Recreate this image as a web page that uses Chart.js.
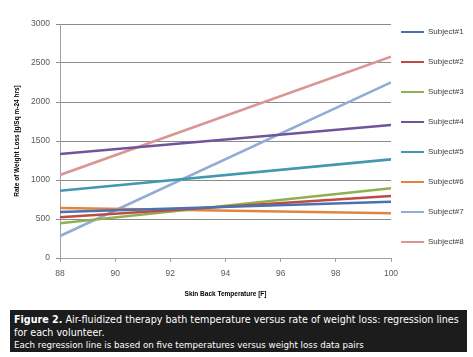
<!DOCTYPE html>
<html>
<head>
<meta charset="utf-8">
<script src="https://cdn.jsdelivr.net/npm/chart.js@4"></script>
<style>
  html, body { margin: 0; padding: 0; background: #ffffff; }
  #wrap { position: relative; width: 473px; height: 357px; }
  #chartBox { position: absolute; left: 0; top: 0; width: 473px; height: 305px; }
  #caption { position: absolute; left: 10px; top: 310px; width: 457px; height: 42px; background: #1c1c1c; color: #ffffff;
             font-family: 'DejaVu Sans', sans-serif; box-sizing: border-box; padding: 3px 0 0 4px; white-space: nowrap; overflow: hidden; }
  #caption .l1 { font-size: 9.6px; line-height: 13px; }
  #caption .l3 { font-size: 8.7px; line-height: 13px; }
</style>
</head>
<body>
<div id="wrap">
  <div id="chartBox"><canvas id="c" width="473" height="305"></canvas></div>
  <div id="caption">
    <div class="l1"><b>Figure 2.</b> Air-fluidized therapy bath temperature versus rate of weight loss: regression lines</div>
    <div class="l1">for each volunteer.</div>
    <div class="l3">Each regression line is based on five temperatures versus weight loss data pairs</div>
  </div>
</div>
<script>
const temperatures = [88, 100];
const subjectNames = ['Subject#1', 'Subject#2', 'Subject#3', 'Subject#4', 'Subject#5', 'Subject#6', 'Subject#7', 'Subject#8'];
const subject1 = [590, 722];
const subject2 = [522, 795];
const subject3 = [445, 894];
const subject4 = [1333, 1705];
const subject5 = [863, 1265];
const subject6 = [641, 573];
const subject7 = [282, 2252];
const subject8 = [1065, 2581];
const xTicks = [88, 90, 92, 94, 96, 98, 100];
const yTicks = [0, 500, 1000, 1500, 2000, 2500, 3000];

const seriesValues = [subject1, subject2, subject3, subject4, subject5, subject6, subject7, subject8];
const colors = ['#4a72ae', '#be4b48', '#8fb050', '#6f559a', '#4198af', '#e0843f', '#91acd6', '#d99694'];

const tickFont = { family: "'Liberation Sans', Arial, sans-serif", size: 8.5 };
const titleFont = { family: "'Liberation Sans', Arial, sans-serif", size: 6.5, weight: 'bold', lineHeight: 1.2 };

const datasets = seriesValues.map((vals, i) => ({
  label: subjectNames[i],
  data: temperatures.map((t, j) => ({ x: t, y: vals[j] })),
  borderColor: colors[i],
  backgroundColor: colors[i],
  borderWidth: 2.6,
  pointRadius: 0,
  fill: false,
  tension: 0
}));

const shiftLegend = {
  id: 'shiftLegend',
  afterLayout(chart) {
    const lg = chart.legend;
    if (lg) {
      lg.left = chart.chartArea.right - 12;
      lg.right = chart.width;
    }
  }
};

new Chart(document.getElementById('c'), {
  type: 'line',
  data: { datasets },
  plugins: [shiftLegend],
  options: {
    responsive: false,
    animation: false,
    layout: { padding: { top: 6, left: 0, right: 0, bottom: 0 } },
    plugins: {
      title: { display: true, text: '', font: { size: 10, lineHeight: 1 }, padding: { top: 0, bottom: 8 } },
      tooltip: { enabled: false },
      legend: {
        position: 'right',
        align: 'start',
        maxWidth: 82,
        labels: {
          font: { family: "'Liberation Sans', Arial, sans-serif", size: 8 },
          color: '#404040',
          boxWidth: 23,
          boxHeight: 2,
          padding: 22,
          generateLabels(chart) {
            const items = Chart.defaults.plugins.legend.labels.generateLabels(chart);
            items.forEach(it => { it.lineWidth = 0; it.strokeStyle = 'rgba(0,0,0,0)'; });
            return items;
          }
        }
      }
    },
    scales: {
      x: {
        type: 'linear',
        min: 88, max: 100,
        afterBuildTicks(scale) { scale.ticks = xTicks.map(v => ({ value: v })); },
        afterFit(scale) { scale.height = 47; },
        ticks: { font: tickFont, color: '#595959', padding: 7, maxRotation: 0, autoSkip: false, callback: v => String(v) },
        grid: { drawOnChartArea: false, drawTicks: true, tickLength: 4, color: '#a0a0a0' },
        border: { color: '#a0a0a0', width: 1 },
        title: { display: true, text: 'Skin Back Temperature [F]', font: titleFont, color: '#000000', padding: { top: 0, bottom: 7 } }
      },
      y: {
        min: 0, max: 3000,
        afterBuildTicks(scale) { scale.ticks = yTicks.map(v => ({ value: v })); },
        afterFit(scale) { scale.width = 60; },
        ticks: { font: tickFont, color: '#595959', padding: 6, callback: v => String(v) },
        grid: { color: '#8c8c8c', lineWidth: 1, drawTicks: true, tickLength: 4 },
        border: { color: '#a0a0a0', width: 1 },
        title: { display: true, text: 'Rate of Weight Loss [g/Sq m-24 hrs]', font: titleFont, color: '#000000', padding: { top: 13, bottom: 0 } }
      }
    }
  }
});
</script>
</body>
</html>
